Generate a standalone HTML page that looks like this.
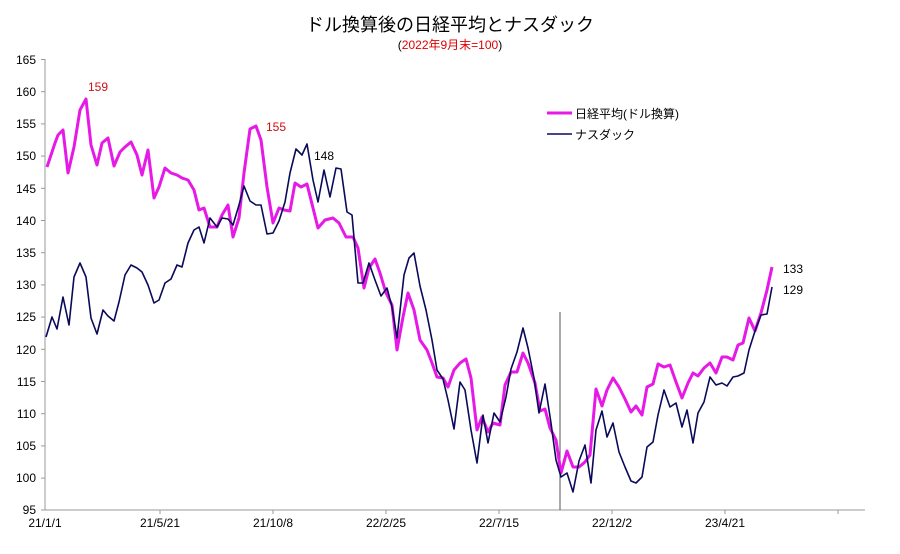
<!DOCTYPE html>
<html><head><meta charset="utf-8"><style>
body{margin:0;background:#fff;}
svg text{font-family:"Liberation Sans","Noto Sans CJK JP",sans-serif;}
</style></head><body>
<svg width="900" height="549" viewBox="0 0 900 549" xmlns="http://www.w3.org/2000/svg">
<rect width="900" height="549" fill="#fff"/>
<text x="450" y="31" font-size="18" text-anchor="middle" fill="#000">ドル換算後の日経平均とナスダック</text>
<text x="450" y="49" font-size="12" text-anchor="middle" fill="#e00000"><tspan fill="#000">(</tspan>2022年9月末=100<tspan fill="#000">)</tspan></text>
<g stroke="#999" stroke-width="1" fill="none">
<line x1="45" y1="59" x2="45" y2="510"/>
<line x1="45" y1="510" x2="865" y2="510"/>
<g id="yt">
<line x1="41" y1="59.5" x2="45" y2="59.5"/><line x1="41" y1="91.7" x2="45" y2="91.7"/><line x1="41" y1="123.9" x2="45" y2="123.9"/><line x1="41" y1="156.1" x2="45" y2="156.1"/><line x1="41" y1="188.3" x2="45" y2="188.3"/><line x1="41" y1="220.5" x2="45" y2="220.5"/><line x1="41" y1="252.7" x2="45" y2="252.7"/><line x1="41" y1="284.9" x2="45" y2="284.9"/><line x1="41" y1="317.1" x2="45" y2="317.1"/><line x1="41" y1="349.3" x2="45" y2="349.3"/><line x1="41" y1="381.5" x2="45" y2="381.5"/><line x1="41" y1="413.7" x2="45" y2="413.7"/><line x1="41" y1="445.9" x2="45" y2="445.9"/><line x1="41" y1="478.1" x2="45" y2="478.1"/><line x1="41" y1="510" x2="45" y2="510"/>
</g>
<line x1="160" y1="510" x2="160" y2="514"/><line x1="273" y1="510" x2="273" y2="514"/><line x1="386" y1="510" x2="386" y2="514"/><line x1="499" y1="510" x2="499" y2="514"/><line x1="612" y1="510" x2="612" y2="514"/><line x1="725" y1="510" x2="725" y2="514"/><line x1="838" y1="510" x2="838" y2="514"/>
</g>
<g font-size="12" text-anchor="end" fill="#000">
<text x="36" y="64">165</text><text x="36" y="96">160</text><text x="36" y="128">155</text><text x="36" y="160">150</text><text x="36" y="193">145</text><text x="36" y="225">140</text><text x="36" y="257">135</text><text x="36" y="289">130</text><text x="36" y="321">125</text><text x="36" y="354">120</text><text x="36" y="386">115</text><text x="36" y="418">110</text><text x="36" y="450">105</text><text x="36" y="482">100</text><text x="36" y="514">95</text>
</g>
<g font-size="12" text-anchor="middle" fill="#000">
<text x="45" y="527">21/1/1</text><text x="160" y="527">21/5/21</text><text x="273" y="527">21/10/8</text><text x="386" y="527">22/2/25</text><text x="499" y="527">22/7/15</text><text x="612" y="527">22/12/2</text><text x="725" y="527">23/4/21</text>
</g>
<line x1="560" y1="312" x2="560" y2="510" stroke="#555" stroke-width="1"/>
<polyline fill="none" stroke="#e619e6" stroke-width="3" stroke-linejoin="round" points="47,167 55,143 58,135 63,130 68,173 74,147 80,110 86,99 91,145 97,165 102,143 108,138 114,166 120,152 125,147 131,142 137,155 142,175 148,150 154,198 159,187 165,168 171,173 177,175 182,178 188,180 194,190 199,210 204,208 210,227 217,227 222,215 228,205 233,237 239,218 244,173 250,129 256,126 261,140 267,187 273,223 279,208 284,210 290,211 295,183 301,187 307,184 313,208 318,228 325,220 333,218 339,223 346,237 353,237 358,248 364,288 369,268 375,259 380,273 386,293 392,305 397,350 403,317 408,293 414,310 420,340 427,350 432,363 437,377 443,378 448,387 454,370 460,363 466,359 471,378 477,430 482,417 488,432 493,423 500,425 505,385 511,372 517,372 523,353 528,363 535,383 540,411 545,409 550,428 556,440 561,473 567,451 573,467 579,467 585,462 590,455 596,389 602,406 607,390 613,378 619,387 625,399 631,412 636,406 642,415 647,387 653,384 658,364 664,367 670,365 676,382 682,398 688,383 693,373 698,376 704,368 710,363 716,373 722,357 727,357 733,360 738,345 743,343 749,318 755,331 761,313 767,290 772,267"/>
<polyline fill="none" stroke="#0a0a5a" stroke-width="1.6" stroke-linejoin="round" points="46,337 52,317 57,329 63,297 69,325 74,277 80,263 86,277 91,318 97,334 103,310 108,316 114,321 119,302 125,275 131,265 137,268 142,272 148,285 154,303 159,300 165,283 171,279 177,265 182,267 188,243 194,230 199,227 204,243 210,218 217,227 222,218 228,219 233,225 239,205 244,186 250,201 256,205 261,205 267,234 273,233 279,221 285,202 290,173 296,149 302,155 307,144 313,180 318,202 324,170 330,197 336,168 341,169 347,212 352,215 358,283 363,283 369,263 375,280 381,296 387,288 392,307 397,338 404,275 409,258 414,253 420,286 426,310 432,340 437,370 443,379 448,400 454,429 460,382 465,390 471,430 477,463 483,415 488,443 494,413 500,422 506,397 511,369 517,352 523,328 528,348 534,378 539,413 545,384 551,423 556,460 561,477 567,473 573,492 579,461 585,445 591,483 596,430 602,411 607,437 613,423 619,452 625,467 631,481 636,483 642,477 647,447 653,442 658,415 664,390 670,407 676,403 682,427 687,410 693,443 698,413 704,402 710,377 716,385 722,383 727,386 733,377 738,376 744,373 749,350 755,331 761,315 767,314 772,287"/>
<g font-size="12">
<text x="88" y="91" fill="#d01010">159</text>
<text x="266" y="131" fill="#d01010">155</text>
<text x="314" y="160" fill="#000">148</text>
<text x="783" y="273" fill="#000">133</text>
<text x="783" y="294" fill="#000">129</text>
</g>
<line x1="547" y1="113" x2="572" y2="113" stroke="#e619e6" stroke-width="3"/>
<text x="575" y="118" font-size="12" fill="#000">日経平均(ドル換算)</text>
<line x1="547" y1="134" x2="572" y2="134" stroke="#0a0a5a" stroke-width="1.6"/>
<text x="575" y="139" font-size="12" fill="#000">ナスダック</text>
</svg>
</body></html>
